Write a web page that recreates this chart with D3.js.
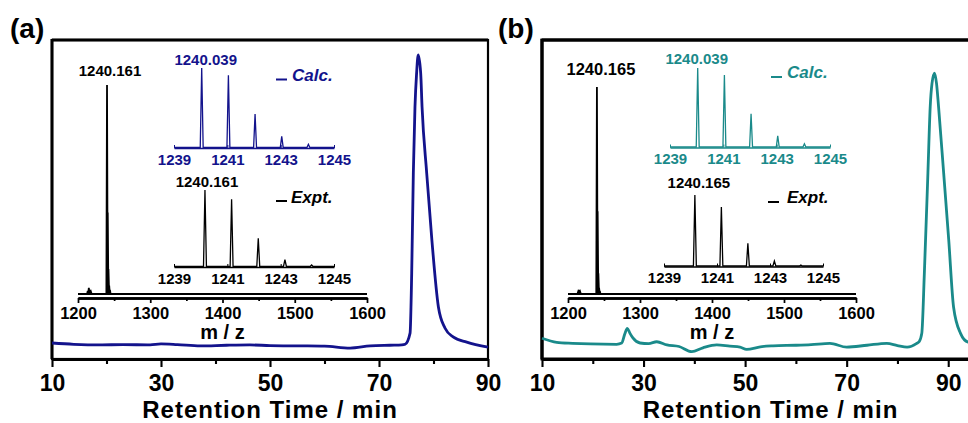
<!DOCTYPE html>
<meta charset="utf-8">
<script src="https://d3js.org/d3.v7.min.js"></script>
<style>
  body { margin: 0; background: #fff; }
  text { font-family: Arial, "Liberation Sans", sans-serif; font-weight: bold; }
</style>
<div id="my_dataviz"></div>
<script>

// ---- data ----
// HPLC traces (retention time in min, signal in % of frame height)
var rtA  = [10, 14, 18.8, 23, 28, 30, 33, 37.2, 42, 46.3, 50, 55.5, 60, 64.7, 68.4, 72, 74.2, 74.8, 75.7, 76.0, 76.3, 76.6, 76.9, 77.2, 77.65, 77.9, 78.75, 79.7, 80.9, 82.1, 83.6, 86.1, 90];
var sigA = [4.7, 4.3, 4.1, 4.2, 4.1, 4.4, 4.2, 3.8, 4.0, 4.1, 3.9, 3.8, 3.7, 3.1, 3.8, 4.0, 4.1, 4.3, 7.8, 26.6, 58, 78.7, 89.3, 95, 89.3, 78.7, 58, 37, 16, 9.4, 6.6, 5.0, 3.4];

var rtB  = [10, 12.9, 16, 19.5, 24.7, 25.7, 26.3, 26.8, 27.3, 27.9, 29.3, 31, 32.6, 34.6, 37, 39.5, 41.7, 44.4, 47, 49, 50.3, 53, 55.5, 60, 63, 66.7, 70, 74, 77.9, 80, 81.9, 83.8, 84.3, 84.8, 85.3, 86.0, 86.45, 86.8, 87.3, 87.7, 88.1, 89.1, 90.1, 91.05, 92.4, 93.9, 95];
var sigB = [6.2, 4.9, 4.6, 4.4, 4.3, 4.7, 7.5, 9.3, 7.8, 6.3, 4.7, 4.5, 5.1, 4.1, 3.6, 2.0, 3.2, 4.1, 3.7, 3.4, 2.7, 3.5, 3.8, 4.0, 4.2, 4.6, 3.4, 4.0, 4.6, 3.9, 3.4, 4.6, 5.2, 7.8, 26.6, 58, 78.7, 86, 89.3, 86, 78.7, 58, 37, 16, 7.8, 5.0, 4.8];

var rtTicks  = [10, 30, 50, 70, 90];
var rtMinor  = [20, 40, 60, 80];
var mzTicks  = [1200, 1300, 1400, 1500, 1600];
var mzMinor  = [1250, 1350, 1450, 1550];
var isoTicks = [1239, 1241, 1243, 1245];

// full-range mass spectra: [m/z, relative intensity]
var msMainA = [[1213.5, 1.5], [1215, 3], [1216.5, 2], [1218, 1], [1240.161, 100], [1241.16, 39], [1242.16, 12], [1243.16, 4], [1244.2, 2]];
var msMainB = [[1214, 1], [1215.5, 2], [1217, 1], [1240.165, 100], [1241.165, 40], [1242.165, 10], [1243.165, 3], [1244.2, 1.5]];

// isotope patterns
var calcMz   = [1240.039, 1241.04, 1242.04, 1243.04, 1244.04];
var calcInt  = [100, 91, 42, 14, 4];
var exptMzA  = [1240.161, 1241.16, 1242.16, 1243.16, 1244.16];
var exptIntA = [100, 88, 37, 9, 2];
var exptMzB  = [1240.165, 1241.165, 1242.165, 1243.165, 1244.165];
var exptIntB = [100, 83, 32, 7, 1.5];

var blue = "#13138c", teal = "#1a8a8a";

var svg = d3.select("#my_dataviz")
  .append("svg")
    .attr("width", 968)
    .attr("height", 423);

// narrow triangles on a baseline, one per peak
function stick(peaks, lo, hi, w) {
  var pts = [[lo, 0]];
  peaks.forEach(function(p) { pts.push([p[0] - w, 0], [p[0], p[1]], [p[0] + w, 0]); });
  pts.push([hi, 0]);
  return pts;
}
function zip(a, b) { return a.map(function(d, i) { return [d, b[i]]; }); }

function drawAxis(g, scale, y, vals, size, labels, fs, pad, color, width) {
  var ax = d3.axisBottom(scale).tickValues(vals).tickSize(size).tickSizeOuter(0)
    .tickFormat(labels ? d3.format("d") : "");
  var a = g.append("g").attr("transform", "translate(0," + y + ")").call(ax);
  a.select(".domain").attr("stroke", color).attr("stroke-width", width);
  a.selectAll(".tick line").attr("stroke", color).attr("stroke-width", width * 0.7);
  a.selectAll(".tick text").attr("fill", color).attr("font-size", fs)
    .attr("y", pad).attr("dy", 0)
    .style("font-family", "Arial, 'Liberation Sans', sans-serif").style("font-weight", "bold");
  return a;
}

function panel(c) {
  var g = svg.append("g");
  var x = d3.scaleLinear().domain(c.rtDomain).range(c.rtRange);
  var y = d3.scaleLinear().domain([0, 100]).range([358, 39]);

  // frame
  g.append("rect")
    .attr("x", c.rtRange[0]).attr("y", 40)
    .attr("width", c.rtRange[1] - c.rtRange[0]).attr("height", 319)
    .attr("fill", "none").attr("stroke", "#000").attr("stroke-width", c.frameW);
  g.append("line").attr("x1", c.rtRange[0]).attr("x2", c.rtRange[0])
    .attr("y1", 39).attr("y2", 359).attr("stroke", "#000").attr("stroke-width", 3);
  g.append("line").attr("x1", c.rtRange[0]).attr("x2", c.rtRange[1])
    .attr("y1", 40).attr("y2", 40).attr("stroke", "#000").attr("stroke-width", 3);

  // chromatogram
  g.append("path")
    .datum(zip(c.rt, c.sig))
    .attr("fill", "none").attr("stroke", c.color).attr("stroke-width", 2.8)
    .attr("stroke-linejoin", "round")
    .attr("d", d3.line().curve(d3.curveMonotoneX)
      .x(function(d) { return x(d[0]); }).y(function(d) { return y(d[1]); }));

  drawAxis(g, x, 359, rtMinor, 5, false, 23, 0, "#000", 3);
  drawAxis(g, x, 359, rtTicks, 8, true, 23, 32, "#000", 3);

  g.append("text").attr("x", (c.rtRange[0] + c.rtRange[1]) / 2).attr("y", 418)
    .attr("text-anchor", "middle").attr("font-size", 24).attr("letter-spacing", 1)
    .text("Retention Time / min");
  g.append("text").attr("x", c.tag[0]).attr("y", 38).attr("font-size", 28).text(c.tag[1]);

  // full mass spectrum inset
  var mx = d3.scaleLinear().domain([1200, 1600]).range(c.msRange);
  var my = d3.scaleLinear().domain([0, 100]).range([294, c.msTop]);
  g.append("path")
    .datum(stick(c.ms, 1200, 1600, 0.9))
    .attr("fill", "none").attr("stroke", "#000").attr("stroke-width", 1.8)
    .attr("d", d3.line().x(function(d) { return mx(d[0]); }).y(function(d) { return my(d[1]); }));
  drawAxis(g, mx, 298, mzMinor, 3, false, 16.5, 0, "#000", 2.5);
  drawAxis(g, mx, 298, mzTicks, 5, true, 16.5, 21, "#000", 2.5);
  g.append("text").attr("x", (c.msRange[0] + c.msRange[1]) / 2).attr("y", 339)
    .attr("text-anchor", "middle").attr("font-size", 20).text("m / z");
  var top = c.ms.filter(function(p) { return p[1] === 100; })[0];
  g.append("text").attr("x", mx(top[0]) + c.msLab[0]).attr("y", c.msLab[1])
    .attr("text-anchor", "middle").attr("font-size", c.msLab[2]).text(d3.format(".3f")(top[0]));

  // isotope insets
  c.iso.forEach(function(s) {
    var ix = d3.scaleLinear().domain([1239, 1245]).range(s.range);
    var iy = d3.scaleLinear().domain([0, 100]).range([s.base, s.top]);
    g.append("path")
      .datum(stick(zip(s.mz, s.int), 1239, 1245, 0.055))
      .attr("fill", "none").attr("stroke", s.color).attr("stroke-width", 1.3)
      .attr("d", d3.line().x(function(d) { return ix(d[0]); }).y(function(d) { return iy(d[1]); }));
    drawAxis(g, ix, s.base + 0.5, isoTicks, -3, true, 15, 16.5, s.color, 1.5);
    g.append("text").attr("x", ix(s.mz[0]) + s.lab[0]).attr("y", s.top + s.lab[1])
      .attr("text-anchor", "middle").attr("font-size", 15).attr("fill", s.color)
      .text(d3.format(".3f")(s.mz[0]));
    g.append("line").attr("x1", s.leg[0]).attr("x2", s.leg[0] + 11)
      .attr("y1", s.leg[1]).attr("y2", s.leg[1]).attr("stroke", s.color).attr("stroke-width", 2);
    g.append("text").attr("x", s.leg[2]).attr("y", s.leg[3])
      .attr("font-size", 17).attr("font-style", "italic").attr("fill", s.color).text(s.name);
  });
}

panel({
  tag: [10, "(a)"], color: blue, frameW: 2.2,
  rt: rtA, sig: sigA, rtDomain: [10, 90], rtRange: [52, 488],
  ms: msMainA, msRange: [78, 367], msTop: 85, msLab: [3, 75.5, 15],
  iso: [
    { name: "Calc.", color: blue, mz: calcMz, int: calcInt, range: [174, 334], base: 147.5, top: 68, lab: [4, -3.5], leg: [276, 79.5, 292, 81] },
    { name: "Expt.", color: "#000", mz: exptMzA, int: exptIntA, range: [174, 334], base: 266.5, top: 190, lab: [2, -3], leg: [276, 201, 291, 203] }
  ]
});

panel({
  tag: [498, "(b)"], color: teal, frameW: 3,
  rt: rtB, sig: sigB, rtDomain: [10, 100], rtRange: [542, 999],
  ms: msMainB, msRange: [568, 856], msTop: 87, msLab: [4, 75, 16.5],
  iso: [
    { name: "Calc.", color: teal, mz: calcMz, int: calcInt, range: [670, 830], base: 147, top: 68, lab: [-1, -4.5], leg: [771, 77, 787, 78] },
    { name: "Expt.", color: "#000", mz: exptMzB, int: exptIntB, range: [664, 823], base: 266, top: 195, lab: [4, -7], leg: [768, 202, 787, 203] }
  ]
});

</script>
